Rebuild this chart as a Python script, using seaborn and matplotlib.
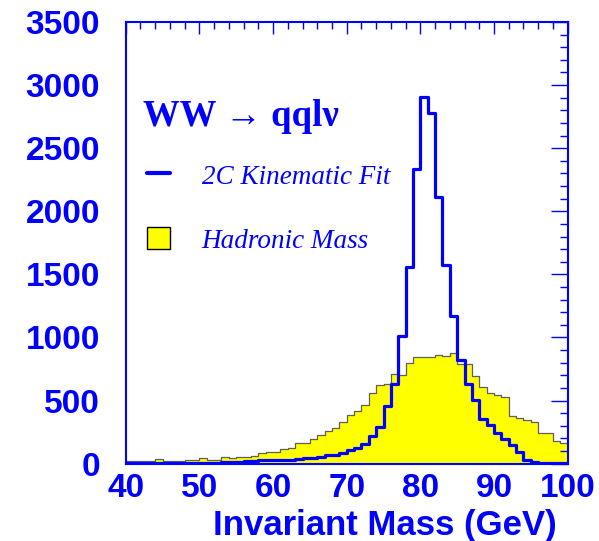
import numpy as np
import pandas as pd
import matplotlib
matplotlib.use("Agg")
import matplotlib.pyplot as plt
import seaborn as sns
from matplotlib.lines import Line2D
from matplotlib.patches import Patch
from matplotlib.ticker import MultipleLocator

# lower edges of the 1 GeV mass bins
bin_lo = list(range(40, 100))

# hadronic (jet-jet) invariant mass, yellow histogram
hadronic = [20, 20, 22, 22, 37, 24, 24, 24, 29, 29,
            43, 29, 29, 56, 43, 56, 56, 61, 87, 95,
            95, 120, 122, 161, 161, 193, 227, 259, 280, 333,
            386, 418, 465, 558, 624, 632, 708, 703, 795, 843,
            845, 848, 862, 850, 875, 790, 790, 697, 605, 558,
            544, 526, 378, 365, 346, 328, 241, 241, 180, 166]

# 2C kinematic fit mass, blue outline
kinfit = [5, 5, 5, 5, 8, 5, 5, 5, 5, 8,
          8, 8, 8, 10, 12, 15, 20, 21, 28, 30,
          30, 28, 30, 35, 42, 48, 55, 65, 72, 88,
          110, 128, 158, 218, 290, 457, 632, 1014, 1561, 2333,
          2908, 2781, 2111, 1575, 1173, 822, 629, 505, 354, 307,
          246, 193, 148, 95, 29, 15, 5, 5, 5, 5]

xticks = [40, 50, 60, 70, 80, 90, 100]
yticks = [0, 500, 1000, 1500, 2000, 2500, 3000, 3500]

edges = bin_lo + [bin_lo[-1] + 1]
df = pd.DataFrame({"mass": np.array(bin_lo) + 0.5,
                   "hadronic": hadronic, "kinfit": kinfit})

sns.set_style("white")
blue = "#0000ff"

fig = plt.figure(figsize=(5.99, 5.41), dpi=100)
ax = fig.add_axes([0.2099, 0.1429, 0.7378, 0.8164])

sns.histplot(data=df, x="mass", weights="hadronic", bins=edges, element="step",
             fill=True, color="#ffff00", alpha=1, edgecolor="#5f5f5f",
             linewidth=0.9, ax=ax)
sns.histplot(data=df, x="mass", weights="kinfit", bins=edges, element="step",
             fill=False, color=blue, linewidth=2.3, ax=ax)

ax.set_xlim(40, 100)
ax.set_ylim(0, 3500)
ax.set_axisbelow(False)

for s in ax.spines.values():
    s.set_color(blue)
    s.set_linewidth(1.5)

ax.set_xticks(xticks, labels=[str(v) for v in xticks])
ax.set_yticks(yticks, labels=[str(v) for v in yticks])
ax.xaxis.set_minor_locator(MultipleLocator(2))
ax.yaxis.set_minor_locator(MultipleLocator(100))
ax.tick_params(which="both", direction="in", top=True, right=True,
               color=blue, width=1, labelcolor=blue, labelsize=24)
ax.tick_params(axis="x", which="major", length=8.6, pad=7)
ax.tick_params(axis="x", which="minor", length=5)
ax.tick_params(axis="y", which="major", length=12.2, pad=18.5)
ax.tick_params(axis="y", which="minor", length=5.8)
for lbl in ax.get_xticklabels() + ax.get_yticklabels():
    lbl.set_fontfamily("Liberation Sans")
    lbl.set_fontweight("bold")

ax.set_ylabel("")
ax.set_xlabel("Invariant Mass (GeV)", family="Liberation Sans", weight="bold",
              size=25, color=blue, ha="right", va="baseline")
ax.xaxis.set_label_coords(0.976, -0.162)

ax.text(0.0385, 0.765, "WW \u2192 qql\u03bd", transform=ax.transAxes,
        family=["Liberation Serif", "DejaVu Serif"], weight="bold", size=26.5,
        color=blue, va="baseline")

handles = [Line2D([], [], color=blue, lw=3),
           Patch(facecolor="#ffff00", edgecolor="black", lw=1)]
ax.legend(handles, ["2C Kinematic Fit", "Hadronic Mass"], loc="upper left",
          bbox_to_anchor=(0.049, 0.68), frameon=False, handlelength=0.85,
          handleheight=0.85, handletextpad=1.15, labelspacing=1.4,
          borderpad=0, borderaxespad=0, labelcolor=blue,
          prop={"family": "Liberation Serif", "style": "italic", "size": 19.5})

fig.savefig("out.png", dpi=100)
